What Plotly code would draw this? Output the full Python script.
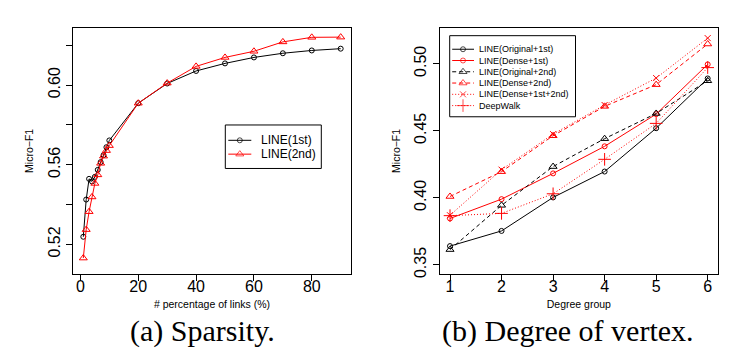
import plotly.graph_objects as go

# ---------------- data ----------------
# (a) Sparsity
pct_links = [1, 2, 3, 4, 5, 6, 7, 8, 9, 10, 20, 30, 40, 50, 60, 70, 80, 90]
line_1st = [0.5238, 0.5425, 0.5529, 0.5516, 0.5539, 0.5574, 0.5613, 0.5648, 0.5688,
            0.5722, 0.5909, 0.6008, 0.6071, 0.6109, 0.6139, 0.6160, 0.6174, 0.6183]
line_2nd = [0.5131, 0.5274, 0.5364, 0.5438, 0.5506, 0.5549, 0.5607, 0.5643, 0.5671,
            0.5696, 0.5909, 0.6010, 0.6094, 0.6139, 0.6170, 0.6217, 0.6240, 0.6241]

# (b) Degree of vertex
degree_group = [1, 2, 3, 4, 5, 6]
orig_1st = [0.3640, 0.3753, 0.4003, 0.4196, 0.4519, 0.4890]
dense_1st = [0.3846, 0.3990, 0.4182, 0.4384, 0.4624, 0.4995]
orig_2nd = [0.3614, 0.3944, 0.4233, 0.4441, 0.4629, 0.4873]
dense_2nd = [0.4010, 0.4195, 0.4463, 0.4682, 0.4844, 0.5147]
dense_1st_2nd = [0.3870, 0.4210, 0.4475, 0.4692, 0.4893, 0.5191]
deepwalk = [0.3867, 0.3884, 0.4030, 0.4287, 0.4555, 0.4971]

left_xticks = [0, 20, 40, 60, 80]
left_yticks = [0.52, 0.54, 0.56, 0.58, 0.60, 0.62]
left_yticklabels = ["0.52", "", "0.56", "", "0.60", ""]
right_yticks = [0.35, 0.40, 0.45, 0.50]
right_yticklabels = ["0.35", "0.40", "0.45", "0.50"]

# ---------------- layout helpers ----------------
W, H = 733, 357
def px(x):
    return x / W
def py(y):
    return 1 - y / H

RED = "#FF0000"
BLK = "#000000"
SANS = "Liberation Sans, Arial, sans-serif"
SERIF = "Liberation Serif, Times New Roman, serif"

fig = go.Figure()

left_series = [
    ("LINE(1st)", line_1st, BLK, "solid", "circle-open", 5),
    ("LINE(2nd)", line_2nd, RED, "solid", "triangle-up-open", 7),
]
right_series = [
    ("LINE(Original+1st)", orig_1st, BLK, "solid", "circle-open", 5),
    ("LINE(Dense+1st)", dense_1st, RED, "solid", "circle-open", 5),
    ("LINE(Original+2nd)", orig_2nd, BLK, "4px,3px", "triangle-up-open", 7),
    ("LINE(Dense+2nd)", dense_2nd, RED, "4px,3px", "triangle-up-open", 7),
    ("LINE(Dense+1st+2nd)", dense_1st_2nd, RED, "1px,2px", "x-thin-open", 6),
    ("DeepWalk", deepwalk, RED, "1px,2px", "cross-thin-open", 9),
]

for name, vals, col, dash, sym, size in left_series:
    fig.add_trace(go.Scatter(
        x=pct_links, y=vals, mode="lines+markers", name=name, showlegend=False,
        line=dict(color=col, width=1, dash=dash),
        marker=dict(symbol=sym, size=size, color=col, line=dict(width=1, color=col)),
        xaxis="x", yaxis="y"))

for name, vals, col, dash, sym, size in right_series:
    fig.add_trace(go.Scatter(
        x=degree_group, y=vals, mode="lines+markers", name=name, showlegend=False,
        line=dict(color=col, width=1, dash=dash),
        marker=dict(symbol=sym, size=size, color=col, line=dict(width=1, color=col)),
        xaxis="x2", yaxis="y2"))


# ---- compact R-style legends drawn on hidden helper axes ----
def add_legend(series, xa, ya, box, row0, row_step, line_x, mark_x, text_x, fsize):
    left, right, top, bot = box
    for i, (name, vals, col, dash, sym, size) in enumerate(series):
        ry = row0 + i * row_step
        fig.add_trace(go.Scatter(
            x=[line_x[0], mark_x, line_x[1]], y=[ry, ry, ry], mode="lines+markers",
            showlegend=False, hoverinfo="skip",
            line=dict(color=col, width=1, dash=dash),
            marker=dict(symbol=sym, size=[0, size, 0], color=col,
                        line=dict(width=1, color=col)),
            xaxis=xa, yaxis=ya))
        fig.add_annotation(x=text_x, y=ry, xref=xa, yref=ya, text=name, showarrow=False,
                           xanchor="left", yanchor="middle",
                           font=dict(family=SANS, size=fsize, color=BLK))
    fig.add_shape(type="rect", xref="paper", yref="paper",
                  x0=px(left), x1=px(right), y0=py(bot), y1=py(top),
                  line=dict(color=BLK, width=1), fillcolor="rgba(0,0,0,0)", layer="above")


leg1 = (217.3, 313.3, 118.3, 162.3)
leg2 = (441.7, 567.5, 28.0, 110.0)
add_legend(left_series, "x4", "y4", leg1, 15.5, 14.0, (3, 26), 14.5, 34, 12)
add_legend(right_series, "x3", "y3", leg2, 13.7, 11.4, (2.5, 24.3), 13.3, 27.5, 9)

axis_common = dict(showline=True, mirror=True, linecolor=BLK, linewidth=1,
                   ticks="outside", ticklen=6, tickcolor=BLK, tickwidth=1,
                   showgrid=False, zeroline=False,
                   tickfont=dict(family=SANS, size=16, color=BLK))
title_font = dict(family=SANS, size=10.5, color=BLK)


def helper_axes(box):
    left, right, top, bot = box
    xa = dict(domain=[px(left), px(right)], range=[0, right - left],
              visible=False, fixedrange=True)
    ya = dict(domain=[py(bot), py(top)], range=[bot - top, 0],
              visible=False, fixedrange=True)
    return xa, ya


x3, y3 = helper_axes(leg2)
x4, y4 = helper_axes(leg1)
x3["anchor"], y3["anchor"] = "y3", "x3"
x4["anchor"], y4["anchor"] = "y4", "x4"

fig.update_layout(
    width=W, height=H,
    margin=dict(l=0, r=0, t=0, b=0),
    paper_bgcolor="white", plot_bgcolor="white",
    showlegend=False,
    xaxis=dict(domain=[px(65), px(343)], range=[-2.56, 93.56],
               tickvals=left_xticks, anchor="y", ticklabelstandoff=-8,
               title=dict(text="# percentage of links (%)", standoff=6, font=title_font),
               **axis_common),
    yaxis=dict(domain=[py(269), py(20)], range=[0.5051, 0.6288],
               tickvals=left_yticks, ticktext=left_yticklabels, tickangle=-90,
               anchor="x",
               title=dict(text="Micro\u2212F1", standoff=9, font=title_font),
               **axis_common),
    xaxis2=dict(domain=[px(431.7), px(710)], range=[0.8, 6.2],
                tickvals=degree_group, anchor="y2", ticklabelstandoff=-8,
                title=dict(text="Degree group", standoff=6, font=title_font),
                **axis_common),
    yaxis2=dict(domain=[py(269), py(20)], range=[0.3432, 0.5268],
                tickvals=right_yticks, ticktext=right_yticklabels, tickangle=-90,
                anchor="x2",
                title=dict(text="Micro\u2212F1", standoff=9, font=title_font),
                **axis_common),
    xaxis3=x3, yaxis3=y3, xaxis4=x4, yaxis4=y4,
)

# captions
fig.add_annotation(x=px(194), y=py(327), xref="paper", yref="paper",
                   text="(a) Sparsity.", showarrow=False, xanchor="center", yanchor="middle",
                   font=dict(family=SERIF, size=30, color=BLK))
fig.add_annotation(x=px(560), y=py(327), xref="paper", yref="paper",
                   text="(b) Degree of vertex.", showarrow=False, xanchor="center", yanchor="middle",
                   font=dict(family=SERIF, size=30, color=BLK))

fig.write_html("out.html")
